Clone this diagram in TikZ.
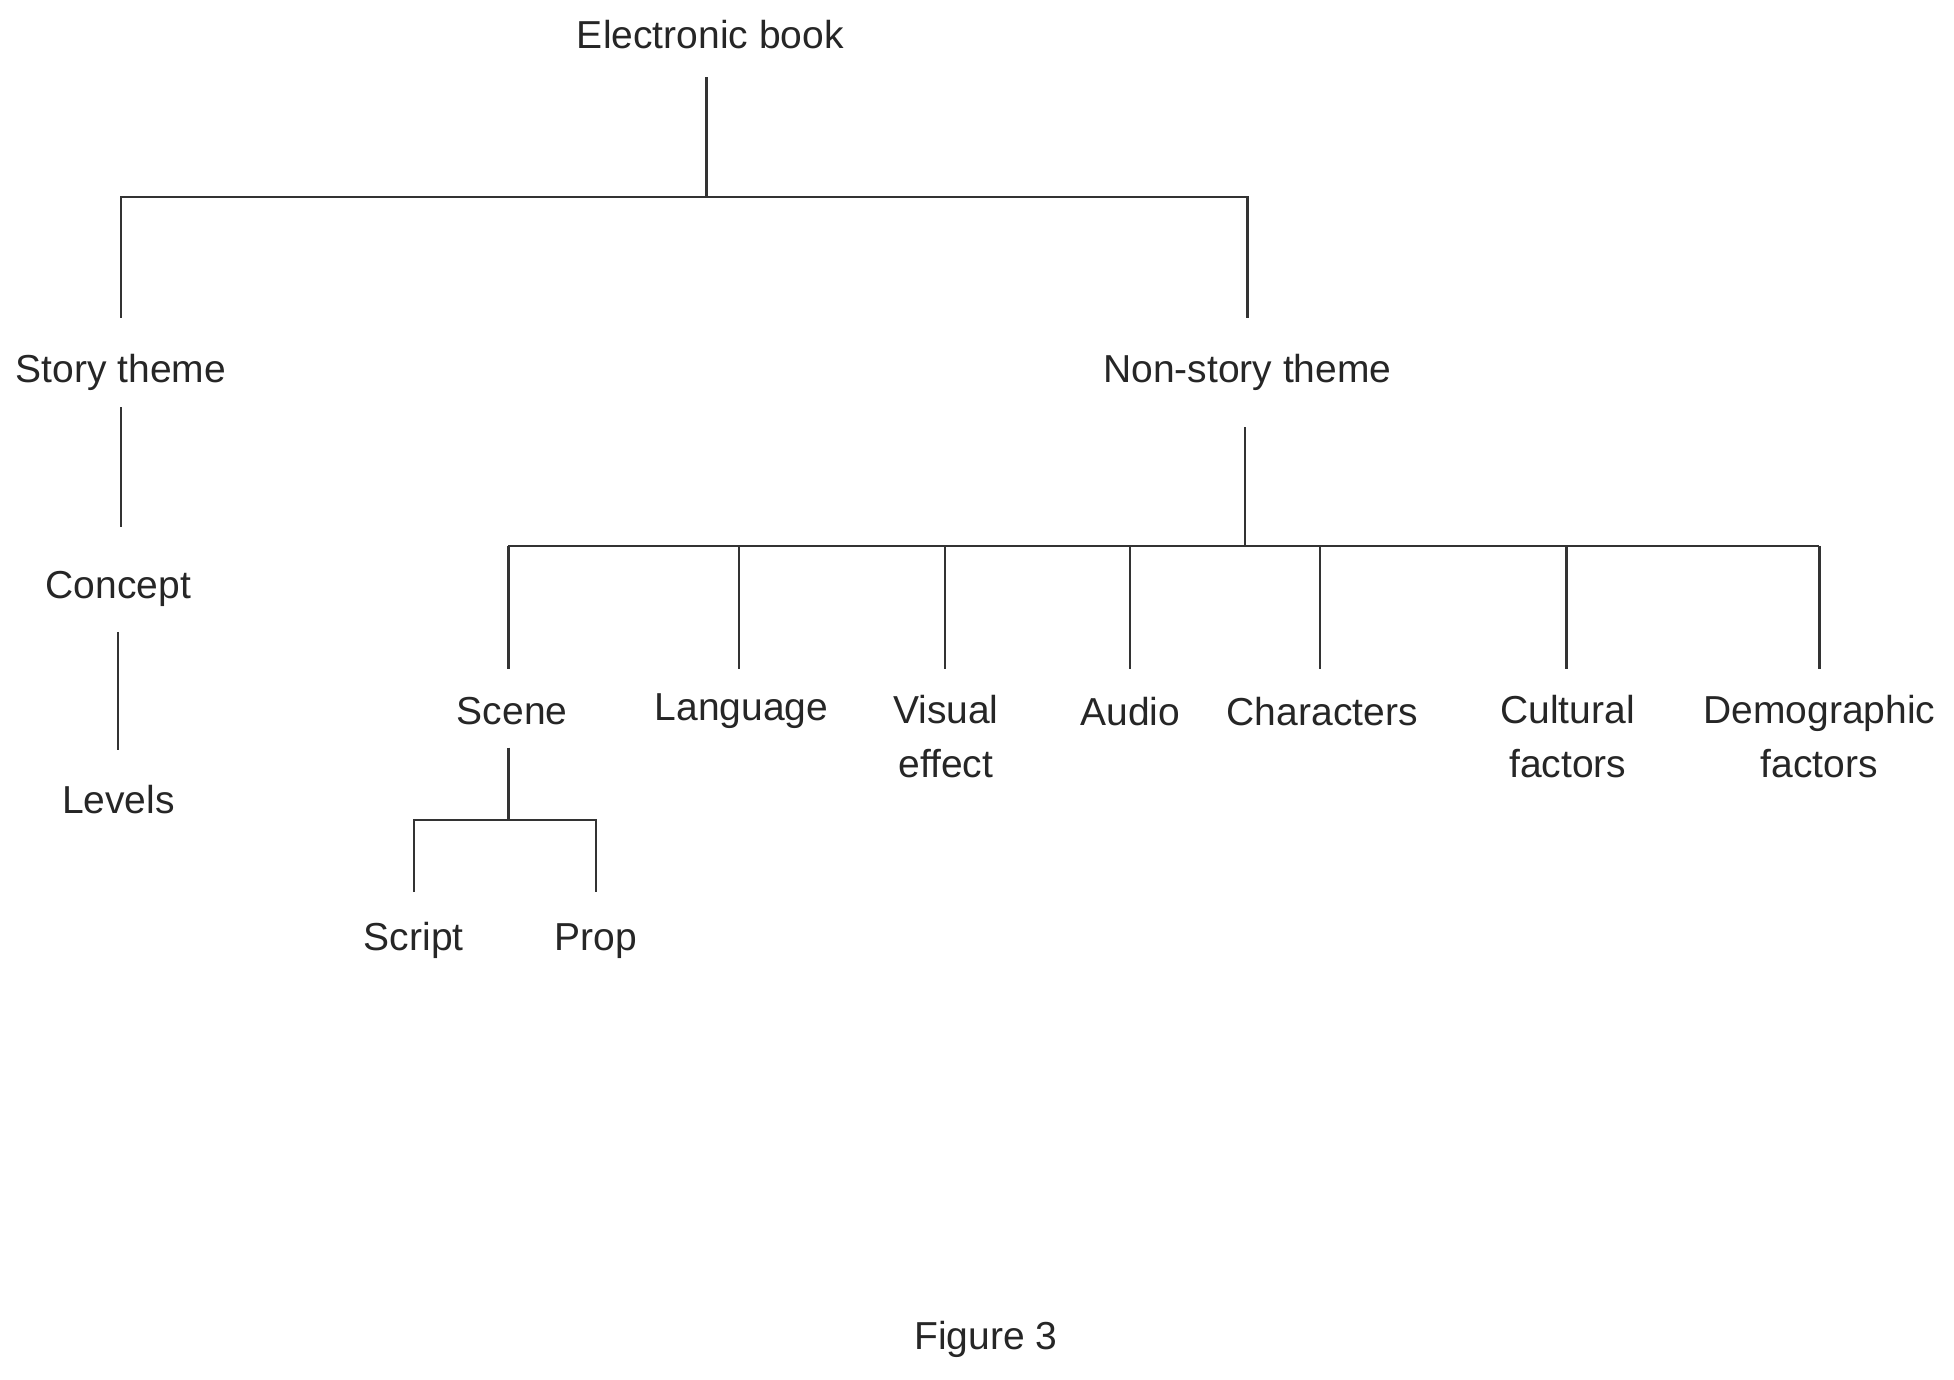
\documentclass[tikz,border=0pt]{standalone}
\usepackage{fontspec}
\setmainfont{Liberation Sans}
\begin{document}
\begin{tikzpicture}[x=0.01cm,y=-0.01cm,
  lbl/.style={font=\fontsize{8.9}{12.5}\selectfont,text=black!85,align=center,inner sep=0pt},
  ln/.style={draw=black!80,line width=0.5pt}]
\useasboundingbox (0,0) rectangle (1568,1107);
\node[lbl] (eb) at (570,28) {Electronic book};
\node[lbl] (st) at (97,299) {Story theme};
\node[lbl] (ns) at (1001,299) {Non-story theme};
\node[lbl] (co) at (95,473) {Concept};
\node[lbl] (lv) at (95,642) {Levels};
\node[lbl] (sc) at (411,571) {Scene};
\node[lbl] (la) at (595,571) {Language};
\node[lbl] (ve) at (759,591) {Visual\\effect};
\node[lbl] (au) at (907,571) {Audio};
\node[lbl] (ch) at (1061,571) {Characters};
\node[lbl] (cf) at (1258,591) {Cultural\\factors};
\node[lbl] (df) at (1460,591) {Demographic\\factors};
\node[lbl] (sp) at (332,755) {Script};
\node[lbl] (pr) at (478,755) {Prop};
\node[lbl] (fig) at (791,1075) {Figure 3};
% junctions
\coordinate (e1) at (567,62); \coordinate (e2) at (567,158);
\coordinate (s0) at (97,255); \coordinate (n0) at (1001,255);
\draw[ln] (e1) -- (e2);
\draw[ln] (s0) |- (e2) -| (n0);
\coordinate (st1) at (97,327); \coordinate (co0) at (97,423);
\draw[ln] (st1) -- (co0);
\coordinate (co1) at (95,507); \coordinate (lv0) at (95,602);
\draw[ln] (co1) -- (lv0);
\coordinate (ns1) at (999,343); \coordinate (ns2) at (999,438);
\draw[ln] (ns1) -- (ns2);
\foreach \n/\x in {a/408,b/593,c/758,d/907,e/1059,f/1257,g/1460}{
  \coordinate (t\n) at (\x,438); \coordinate (b\n) at (\x,537);
  \draw[ln] (t\n) -- (b\n);}
\draw[ln] (ta) -- (tg);
\coordinate (sc1) at (408,600); \coordinate (sc2) at (408,658);
\coordinate (sp0) at (332,716); \coordinate (pr0) at (478,716);
\draw[ln] (sc1) -- (sc2);
\draw[ln] (sp0) |- (sc2) -| (pr0);
\end{tikzpicture}
\end{document}
